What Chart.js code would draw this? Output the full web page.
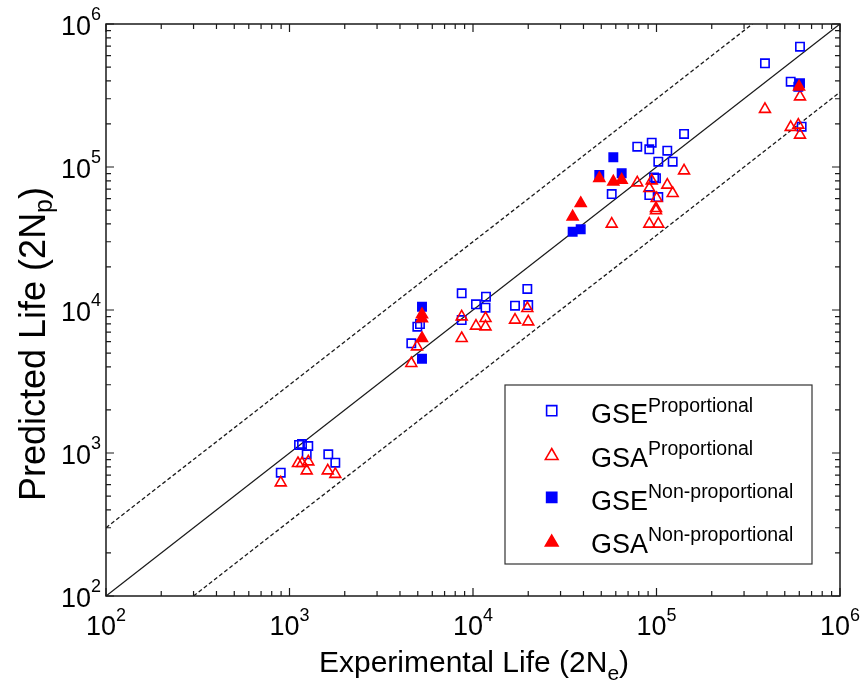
<!DOCTYPE html>
<html>
<head>
<meta charset="utf-8">
<script src="https://cdn.jsdelivr.net/npm/chart.js@4.4.1/dist/chart.umd.min.js"></script>
<style>
  html, body { margin: 0; padding: 0; background: #fff; }
</style>
</head>
<body>
<canvas id="chart" width="860" height="688"></canvas>
<script>
// values (log-log, cycles)
const gsePropX = [896, 1127, 1170, 1266, 1241, 1627, 1777,
  4973, 5141, 4611,
  8676, 11770, 10380, 11700, 8676, 16940, 19770, 20000,
  78550, 94180, 91370, 114500, 141300, 102300, 122500, 57010, 99340, 97000, 91370, 102300,
  605300, 390000, 538600, 618000];
const gsePropY = [728, 1138, 1156, 1119, 979, 979, 855,
  7638, 7980, 5848,
  13090, 12380, 10960, 10380, 8511, 10720, 14030, 10830,
  138700, 147900, 132900, 130000, 170200, 108900, 108900, 64710, 83370, 84500, 63680, 61660,
  693600, 531000, 394800, 191400];

const gsaPropX = [896, 1112, 1170, 1266, 1241, 1616, 1777,
  4950, 4611,
  8676, 8676, 10380, 11700, 11700, 16940, 19770, 20000,
  78550, 94180, 91370, 114500, 122500, 141300, 100200, 99340, 99340, 57010, 91370, 102300,
  605300, 390000, 538600, 592700, 605300];
const gsaPropY = [620, 847, 847, 869, 752, 752, 710,
  5540, 4240,
  8980, 6339, 7727, 8750, 7638, 8511, 10280, 8285,
  77630, 80200, 70960, 74820, 65480, 94200, 60400, 51420, 49500, 39940, 39940, 39940,
  310300, 253400, 189600, 196600, 167400];

const gseNonX = [5273, 5273, 58170, 48780, 64600, 34920, 38630, 605300, 592700];
const gseNonY = [10540, 4564, 116900, 87900, 90450, 35300, 36650, 384600, 364400];

const gsaNonX = [5273, 5273, 5273, 48780, 58170, 64600, 38630, 34920, 598000];
const gsaNonY = [9300, 8700, 6339, 83370, 78900, 81130, 55720, 44900, 364400];

const seriesBase = ['GSE', 'GSA', 'GSE', 'GSA'];
const seriesSup = ['Proportional', 'Proportional', 'Non-proportional', 'Non-proportional'];

// reference lines: 1:1 and factor-of-3 band
const axisMin = 100;
const axisMax = 1e6;
const bandFactor = 3;

const tickValues = [];
for (let e = 2; e < 6; e++) {
  for (let m = 1; m <= 9; m++) tickValues.push(m * Math.pow(10, e));
}
tickValues.push(axisMax);

const FONT = '"Liberation Sans", Arial, Helvetica, sans-serif';
const BLUE = '#0000ff';
const RED = '#ff0000';
const INK = '#1a1a1a';

function zip(xs, ys) {
  return xs.map((x, i) => ({ x: x, y: ys[i] }));
}

function isPow10(v) {
  const l = Math.log10(v);
  return Math.abs(l - Math.round(l)) < 1e-9;
}

// draw text made of runs (for super/subscripts)
function runs(ctx, parts, x, y, align) {
  let total = 0;
  parts.forEach(p => {
    ctx.font = p.size + 'px ' + FONT;
    p.w = ctx.measureText(p.t).width;
    total += p.w;
  });
  let cx = align === 'center' ? x - total / 2 : align === 'right' ? x - total : x;
  ctx.textAlign = 'left';
  ctx.textBaseline = 'alphabetic';
  parts.forEach(p => {
    ctx.font = p.size + 'px ' + FONT;
    ctx.fillText(p.t, cx, y + (p.dy || 0));
    cx += p.w;
  });
}

function marker(ctx, style, filled, color, x, y, r) {
  ctx.beginPath();
  if (style === 'rect') {
    const s = r * Math.SQRT1_2;
    ctx.rect(x - s, y - s, 2 * s, 2 * s);
  } else {
    const h = Math.sqrt(3) / 2 * r;
    ctx.moveTo(x, y - r);
    ctx.lineTo(x + h, y + r / 2);
    ctx.lineTo(x - h, y + r / 2);
    ctx.closePath();
  }
  ctx.lineWidth = 1.6;
  ctx.strokeStyle = color;
  if (filled) { ctx.fillStyle = color; ctx.fill(); }
  ctx.stroke();
}

const decorations = {
  id: 'decorations',
  afterDraw(chart) {
    const ctx = chart.ctx;
    const a = chart.chartArea;
    const xs = chart.scales.x;
    const ys = chart.scales.y;
    ctx.save();

    // frame
    ctx.strokeStyle = INK;
    ctx.lineWidth = 1.5;
    ctx.strokeRect(a.left, a.top, a.right - a.left, a.bottom - a.top);

    // inward tick marks on all four sides
    ctx.lineWidth = 1.2;
    ctx.beginPath();
    xs.ticks.forEach(t => {
      const px = xs.getPixelForValue(t.value);
      const len = isPow10(t.value) ? 8 : 5;
      ctx.moveTo(px, a.bottom); ctx.lineTo(px, a.bottom - len);
      ctx.moveTo(px, a.top); ctx.lineTo(px, a.top + len);
    });
    ys.ticks.forEach(t => {
      const py = ys.getPixelForValue(t.value);
      const len = isPow10(t.value) ? 8 : 5;
      ctx.moveTo(a.left, py); ctx.lineTo(a.left + len, py);
      ctx.moveTo(a.right, py); ctx.lineTo(a.right - len, py);
    });
    ctx.stroke();

    // tick labels 10^n
    ctx.fillStyle = '#000';
    xs.ticks.filter(t => isPow10(t.value)).forEach(t => {
      const px = xs.getPixelForValue(t.value);
      const e = String(Math.round(Math.log10(t.value)));
      runs(ctx, [{ t: '10', size: 27 }, { t: e, size: 18, dy: -14 }], px, a.bottom + 39, 'center');
    });
    ys.ticks.filter(t => isPow10(t.value)).forEach(t => {
      const py = ys.getPixelForValue(t.value);
      const e = String(Math.round(Math.log10(t.value)));
      runs(ctx, [{ t: '10', size: 27 }, { t: e, size: 18, dy: -15 }], a.left - 5, py + 11, 'right');
    });

    // axis titles
    runs(ctx, [{ t: 'Experimental Life (2N', size: 30 }, { t: 'e', size: 21, dy: 8 }, { t: ')', size: 30 }],
      (a.left + a.right) / 2 + 1, 672, 'center');
    ctx.save();
    ctx.translate(45, 344);
    ctx.rotate(-Math.PI / 2);
    runs(ctx, [{ t: 'Predicted Life (2N', size: 36 }, { t: 'p', size: 25, dy: 7 }, { t: ')', size: 36 }], 0, 0, 'center');
    ctx.restore();

    // legend
    ctx.fillStyle = '#fff';
    ctx.fillRect(505, 385, 307, 179);
    ctx.strokeStyle = '#333';
    ctx.lineWidth = 1.2;
    ctx.strokeRect(505, 385, 307, 179);
    const points = chart.data.datasets.filter(d => d.legend);
    points.forEach((d, i) => {
      const cy = 410.7 + i * 43.3;
      const tri = d.pointStyle === 'triangle';
      marker(ctx, d.pointStyle, d.filled, d.borderColor, 551.7, tri ? cy + 1.8 : cy, tri ? 7.3 : 7.2);
      ctx.fillStyle = '#000';
      runs(ctx, [{ t: seriesBase[i], size: 27 }, { t: seriesSup[i], size: 19.5, dy: -11.6 }], 591, 423.3 + i * 43.2, 'left');
    });
    ctx.restore();
  }
};

function pointSet(label, xs, ys, style, color, filled, order) {
  const r = style === 'rect' ? 5.9 : 6.3;
  return {
    label: label,
    data: zip(xs, ys),
    pointStyle: style,
    pointRadius: r,
    pointHoverRadius: r,
    borderColor: color,
    backgroundColor: filled ? color : 'rgba(0,0,0,0)',
    pointBorderWidth: 1.6,
    showLine: false,
    filled: filled,
    legend: true,
    order: order
  };
}

function refLine(xs, ys, dash) {
  return {
    label: '',
    data: zip(xs, ys),
    showLine: true,
    borderColor: INK,
    borderWidth: 1.3,
    borderDash: dash,
    pointRadius: 0,
    fill: false,
    order: 10
  };
}

new Chart(document.getElementById('chart'), {
  type: 'scatter',
  data: {
    datasets: [
      pointSet(seriesBase[0] + ' ' + seriesSup[0], gsePropX, gsePropY, 'rect', BLUE, false, 3),
      pointSet(seriesBase[1] + ' ' + seriesSup[1], gsaPropX, gsaPropY, 'triangle', RED, false, 2),
      pointSet(seriesBase[2] + ' ' + seriesSup[2], gseNonX, gseNonY, 'rect', BLUE, true, 1),
      pointSet(seriesBase[3] + ' ' + seriesSup[3], gsaNonX, gsaNonY, 'triangle', RED, true, 0),
      refLine([axisMin, axisMax], [axisMin, axisMax], []),
      refLine([axisMin, axisMax / bandFactor], [axisMin * bandFactor, axisMax], [4, 2.5]),
      refLine([axisMin * bandFactor, axisMax], [axisMin, axisMax / bandFactor], [4, 2.5])
    ]
  },
  options: {
    responsive: false,
    animation: false,
    layout: { padding: { left: 106, top: 24, right: 20, bottom: 92 } },
    plugins: { legend: { display: false }, tooltip: { enabled: false } },
    scales: {
      x: {
        type: 'logarithmic',
        min: axisMin,
        max: axisMax,
        afterBuildTicks: s => { s.ticks = tickValues.map(v => ({ value: v })); },
        ticks: { display: false },
        grid: { display: false, drawTicks: false },
        border: { display: false }
      },
      y: {
        type: 'logarithmic',
        min: axisMin,
        max: axisMax,
        afterBuildTicks: s => { s.ticks = tickValues.map(v => ({ value: v })); },
        ticks: { display: false },
        grid: { display: false, drawTicks: false },
        border: { display: false }
      }
    }
  },
  plugins: [decorations]
});
</script>
</body>
</html>
